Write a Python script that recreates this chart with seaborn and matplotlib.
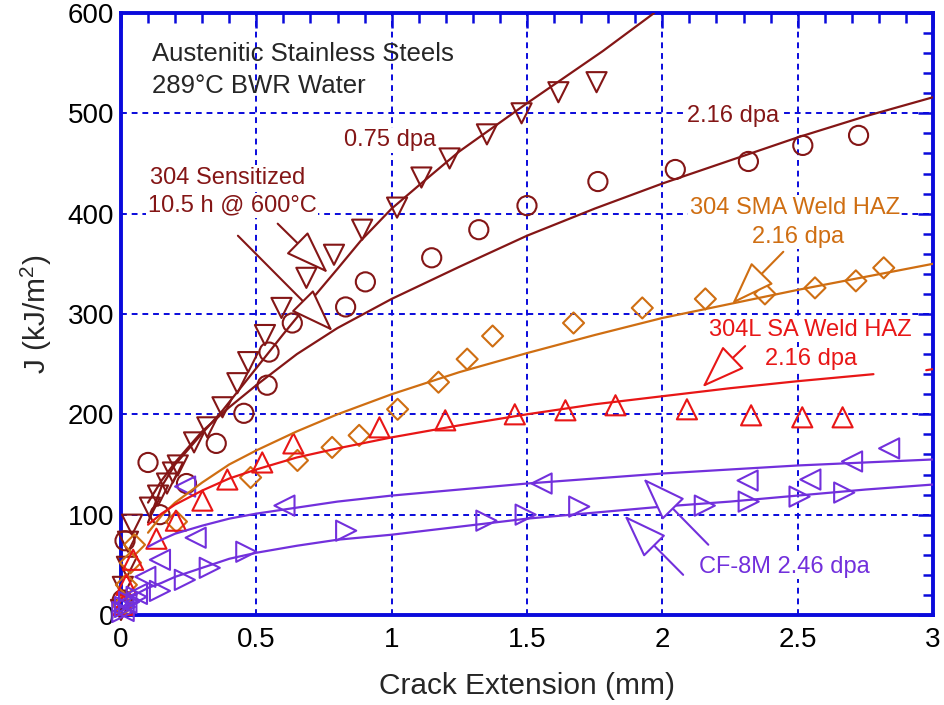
import numpy as np
import pandas as pd
import matplotlib
matplotlib.use("Agg")
import matplotlib.pyplot as plt
from matplotlib.ticker import MultipleLocator
import seaborn as sns

# colours
dark_red = "#841616"
orange = "#CF6E12"
red = "#E81616"
purple = "#7230DC"
blue = "#0A0ADC"

# 304 Sensitized, 0.75 dpa (down triangles)
sens075_x = [0.0, 0.007, 0.022, 0.026, 0.041, 0.107, 0.137, 0.17, 0.192, 0.21, 0.27, 0.319, 0.375,
             0.43, 0.47, 0.532, 0.593, 0.685, 0.787, 0.891, 1.02, 1.11, 1.214, 1.352, 1.48, 1.616, 1.757]
sens075_y = [5, 28, 48, 73, 90, 107, 119, 131, 142, 149, 172, 187, 207,
             231, 252, 279, 306, 336, 359, 384, 406, 436, 455, 479, 500, 521, 531]
sens075_fit_x = [0.10, 0.15, 0.20, 0.255, 0.30, 0.376, 0.5, 0.6, 0.7, 0.8, 0.886, 1.0, 1.1, 1.25, 1.5, 1.78, 1.97]
sens075_fit_y = [92, 128, 150, 167, 181, 204, 246, 280, 313, 345, 373, 405, 428, 462, 510, 562, 600]

# 304 Sensitized, 2.16 dpa (circles)
sens216_x = [0.005, 0.015, 0.10, 0.144, 0.242, 0.352, 0.454, 0.54, 0.547, 0.633, 0.83, 0.903,
             1.148, 1.322, 1.5, 1.762, 2.048, 2.318, 2.519, 2.725]
sens216_y = [15, 74, 152, 100, 131, 171, 201, 229, 262, 291, 307, 332,
             356, 384, 408, 432, 444, 452, 468, 478]
sens216_fit_x = [0.1, 0.15, 0.2, 0.3, 0.4, 0.5, 0.65, 0.8, 1.0, 1.25, 1.5, 1.75, 2.0, 2.25, 2.5, 2.75, 3.0]
sens216_fit_y = [112, 134, 152, 183, 207, 229, 260, 286, 315, 347, 378, 405, 430, 453, 476, 497, 516]

# 304 SMA Weld HAZ, 2.16 dpa (diamonds)
sma_x = [0.008, 0.02, 0.035, 0.05, 0.205, 0.479, 0.652, 0.78, 0.88, 1.022, 1.173, 1.279, 1.373,
         1.672, 1.926, 2.159, 2.379, 2.564, 2.715, 2.818]
sma_y = [10, 30, 52, 70, 93, 137, 154, 167, 179, 205, 232, 255, 278,
         291, 306, 315, 320, 326, 333, 346]
sma_fit_x = [0.1, 0.15, 0.2, 0.3, 0.4, 0.5, 0.65, 0.8, 1.0, 1.25, 1.5, 1.75, 2.0, 2.25, 2.5, 2.75, 3.0]
sma_fit_y = [82, 99, 112, 132, 150, 164, 183, 200, 220, 242, 261, 279, 296, 310, 324, 337, 350]

# 304L SA Weld HAZ, 2.16 dpa (up triangles)
sa_x = [0.01, 0.02, 0.045, 0.131, 0.203, 0.301, 0.393, 0.522, 0.637, 0.955, 1.198, 1.455,
        1.642, 1.827, 2.091, 2.328, 2.517, 2.666]
sa_y = [10, 30, 55, 76, 94, 114, 135, 152, 171, 187, 194, 200,
        204, 209, 205, 199, 197, 197]
sa_fit_x = [0.1, 0.15, 0.2, 0.3, 0.4, 0.5, 0.65, 0.8, 1.0, 1.25, 1.5, 1.75, 2.0, 2.25, 2.5, 2.78]
sa_fit_y = [90, 101, 110, 124, 136, 145, 157, 166, 177, 189, 200, 210, 218, 226, 233, 240]
sa_fit_end_x = [2.975, 3.0]
sa_fit_end_y = [244, 245]

# CF-8M 2.46 dpa (left triangles)
cfl_x = [0.01, 0.02, 0.059, 0.09, 0.144, 0.237, 0.276, 0.604, 1.554, 2.315, 2.547, 2.701, 2.838]
cfl_y = [4, 12, 21, 38, 55, 128, 77, 109, 131, 134, 135, 153, 166]
cfl_fit_x = [0.1, 0.15, 0.2, 0.3, 0.4, 0.5, 0.65, 0.8, 1.0, 1.25, 1.5, 1.75, 2.0, 2.25, 2.5, 2.75, 3.0]
cfl_fit_y = [68, 75, 81, 89, 96, 101, 107, 113, 119, 125, 131, 136, 141, 145, 149, 152, 155]

# CF-8M 2.46 dpa (right triangles)
cfr_x = [0.005, 0.015, 0.03, 0.058, 0.144, 0.236, 0.328, 0.463, 0.832, 1.35, 1.495, 1.693,
         2.157, 2.319, 2.507, 2.672]
cfr_y = [3, 8, 13, 18, 24, 35, 47, 63, 84, 94, 100, 108, 109, 113, 118, 122]
cfr_fit_x = [0.005, 0.02, 0.05, 0.1, 0.15, 0.2, 0.3, 0.4, 0.5, 0.65, 0.8, 1.0, 1.25, 1.5, 1.75,
             2.0, 2.25, 2.5, 2.75, 3.0]
cfr_fit_y = [4, 12, 20, 27, 32, 38, 47, 56, 62, 69, 75, 80, 88, 96, 102, 108, 113, 119, 125, 130]

sns.set_style("white")
plt.rcParams["font.family"] = ["Liberation Sans", "DejaVu Sans"]
plt.rcParams["mathtext.fontset"] = "custom"
plt.rcParams["mathtext.rm"] = "Liberation Sans"

fig = plt.figure(figsize=(9.45, 7.05), dpi=100)
ax = fig.add_axes([0.128, 0.1277, 0.8593, 0.8539])

curves = [
    (sens075_fit_x, sens075_fit_y, dark_red),
    (sens216_fit_x, sens216_fit_y, dark_red),
    (sma_fit_x, sma_fit_y, orange),
    (sa_fit_x, sa_fit_y, red),
    (sa_fit_end_x, sa_fit_end_y, red),
    (cfl_fit_x, cfl_fit_y, purple),
    (cfr_fit_x, cfr_fit_y, purple),
]
for cx, cy, c in curves:
    sns.lineplot(x=cx, y=cy, color=c, lw=1.6, sort=False, estimator=None, ax=ax, zorder=4)

points = [
    (sens075_x, sens075_y, "v", 210, dark_red),
    (sens216_x, sens216_y, "o", 190, dark_red),
    (sma_x, sma_y, "D", 115, orange),
    (sa_x, sa_y, "^", 210, red),
    (cfl_x, cfl_y, "<", 210, purple),
    (cfr_x, cfr_y, ">", 210, purple),
]
for px, py, m, s, c in points:
    sns.scatterplot(x=px, y=py, marker=m, s=s, facecolor="none", edgecolor=c,
                    linewidth=1.5, ax=ax, zorder=3, clip_on=False)

ax.set_xlim(0, 3)
ax.set_ylim(0, 600)
ax.xaxis.set_major_locator(MultipleLocator(0.5))
ax.xaxis.set_minor_locator(MultipleLocator(0.1))
ax.yaxis.set_major_locator(MultipleLocator(100))
ax.yaxis.set_minor_locator(MultipleLocator(20))
ax.set_xticks([0, 0.5, 1, 1.5, 2, 2.5, 3])
ax.set_xticklabels(["0", "0.5", "1", "1.5", "2", "2.5", "3"])
ax.tick_params(which="both", direction="in", top=True, right=True, color=blue,
               width=1.8, labelsize=20, labelcolor="black")
ax.tick_params(which="major", length=11)
ax.tick_params(which="minor", length=7)
ax.tick_params(axis="x", which="major", pad=9)
ax.tick_params(axis="y", which="major", pad=5)
for sp in ax.spines.values():
    sp.set_color(blue)
    sp.set_linewidth(2.8)
ax.grid(True, which="major", color=blue, linestyle=(0, (3, 2.5)), linewidth=1.4)
ax.set_axisbelow(True)

ax.set_xlabel("Crack Extension (mm)", fontsize=21.5, labelpad=13)
ax.set_ylabel("J (kJ/m$^2$)", fontsize=21.5, labelpad=10)

ax.text(0.114, 559, "Austenitic Stainless Steels", fontsize=18.5, va="center", ha="left")
ax.text(0.114, 527, "289°C BWR Water", fontsize=18.5, va="center", ha="left")

bg = dict(facecolor="white", edgecolor="none", pad=1)
fs = 17
ax.text(0.996, 473, "0.75 dpa", color=dark_red, fontsize=fs, ha="center", va="center", bbox=bg, zorder=5)
ax.text(0.395, 436, "304 Sensitized", color=dark_red, fontsize=fs, ha="center", va="center", bbox=bg, zorder=5)
ax.text(0.41, 408, "10.5 h @ 600°C", color=dark_red, fontsize=fs, ha="center", va="center", bbox=bg, zorder=5)
ax.text(2.26, 497, "2.16 dpa", color=dark_red, fontsize=fs, ha="center", va="center", bbox=bg, zorder=5)
ax.text(2.49, 406, "304 SMA Weld HAZ", color=orange, fontsize=fs, ha="center", va="center", bbox=bg, zorder=5)
ax.text(2.50, 377, "2.16 dpa", color=orange, fontsize=fs, ha="center", va="center", bbox=bg, zorder=5)
ax.text(2.546, 284, "304L SA Weld HAZ", color=red, fontsize=fs, ha="center", va="center", bbox=bg, zorder=5)
ax.text(2.55, 255, "2.16 dpa", color=red, fontsize=fs, ha="center", va="center", bbox=bg, zorder=5)
ax.text(2.45, 48, "CF-8M 2.46 dpa", color=purple, fontsize=fs, ha="center", va="center", bbox=bg, zorder=5)

arrows = [
    ((0.579, 390), (0.764, 341), dark_red),
    ((0.432, 378), (0.782, 283), dark_red),
    ((2.447, 362), (2.258, 310), orange),
    ((2.306, 268), (2.148, 227), red),
    ((2.077, 40), (1.86, 99), purple),
    ((2.17, 70), (1.93, 136), purple),
]
for (sx, sy), (tx, ty), c in arrows:
    ax.annotate("", xy=(tx, ty), xytext=(sx, sy),
                arrowprops=dict(arrowstyle="-|>,head_length=1.4,head_width=0.5", fc="white",
                                ec=c, lw=1.5, mutation_scale=20, shrinkA=0, shrinkB=0),
                zorder=6)

fig.savefig("out.png", dpi=100)
